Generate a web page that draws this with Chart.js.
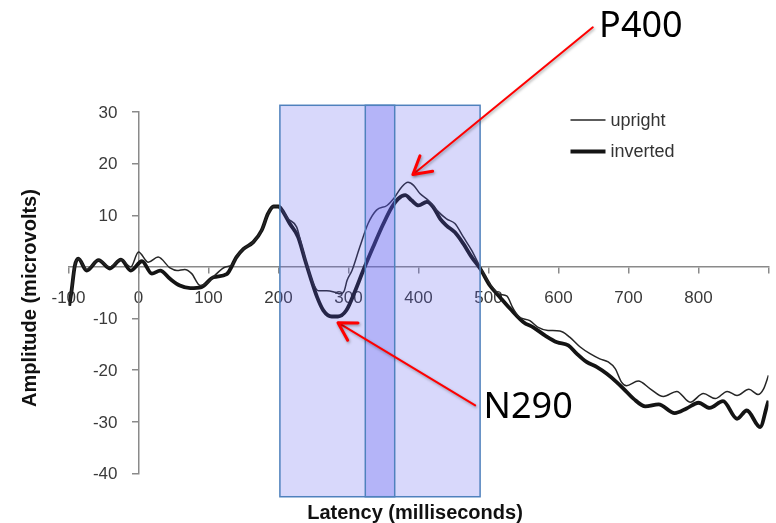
<!DOCTYPE html>
<html>
<head>
<meta charset="utf-8">
<script src="https://cdn.jsdelivr.net/npm/chart.js@4/dist/chart.umd.min.js"></script>
<style>
  html, body { margin: 0; padding: 0; background: #ffffff; }
  #wrap { width: 776px; height: 523px; position: relative; }
</style>
</head>
<body>
<div id="wrap"><canvas id="erp" width="776" height="523"></canvas></div>
<script>
// Grand-average ERP waveforms (latency in ms, amplitude in microvolts)
const uprightLatency = [-99, -96, -91, -86, -74, -57, -41, -25, -11, 0, 14, 28, 45, 55, 66, 76, 88, 97, 107, 124, 133, 140, 150, 164, 176, 185, 193, 200, 205, 214, 226, 233, 240, 250, 257, 269, 281, 288, 294, 298, 305, 316, 328, 340, 355, 366, 376, 385, 393, 402, 414, 426, 440, 452, 464, 476, 488, 497, 507, 516, 526, 535, 543, 559, 571, 585, 602, 616, 631, 645, 659, 671, 681, 690, 697, 714, 731, 750, 769, 788, 807, 824, 841, 855, 872, 885, 893, 900];
const uprightAmplitude = [-7.5, -5.0, 0.2, 1.6, -0.5, 1.3, 0.0, 1.4, 0.0, 2.9, 0.9, 1.9, -0.2, -0.7, -0.5, -1.3, -3.6, -3.2, -1.9, 0.0, 0.3, 1.9, 3.5, 4.8, 7.1, 10.3, 11.7, 11.7, 11.0, 9.3, 7.7, 4.2, 0.6, -3.3, -4.6, -4.6, -4.9, -5.2, -4.6, -2.6, -0.7, 3.8, 8.4, 11.0, 11.9, 13.5, 15.5, 16.4, 15.8, 14.2, 12.9, 11.0, 9.3, 8.4, 5.8, 3.2, 0.0, -2.3, -4.2, -5.3, -5.6, -8.0, -9.6, -10.4, -11.7, -12.3, -12.4, -13.6, -15.5, -16.8, -17.8, -18.4, -19.7, -22.3, -23.0, -22.1, -23.6, -25.1, -24.1, -26.2, -24.5, -25.5, -24.1, -24.9, -23.7, -24.7, -23.6, -21.0];

const invertedLatency = [-99, -96, -91, -86, -74, -57, -41, -25, -11, 5, 19, 31, 45, 59, 74, 90, 107, 126, 140, 150, 164, 176, 185, 193, 200, 205, 216, 228, 238, 247, 255, 264, 276, 285, 297, 309, 321, 335, 350, 362, 371, 381, 390, 400, 412, 421, 431, 440, 452, 464, 476, 488, 502, 516, 531, 550, 564, 581, 598, 614, 626, 640, 655, 669, 683, 693, 707, 724, 743, 766, 783, 800, 816, 835, 855, 869, 888, 898, 900];
const invertedAmplitude = [-7.5, -5.0, 0.2, 1.6, -0.7, 1.3, -0.3, 1.4, -0.7, 1.1, -1.3, -0.7, -2.3, -3.6, -4.1, -3.9, -2.0, -1.4, 1.9, 3.5, 4.8, 7.1, 10.3, 11.7, 11.7, 11.0, 8.4, 5.8, 1.3, -2.6, -5.8, -8.4, -9.6, -9.6, -8.4, -4.8, -0.7, 3.8, 8.4, 11.6, 13.2, 13.9, 12.9, 11.9, 12.6, 11.6, 9.3, 8.0, 6.7, 4.5, 1.9, -0.3, -3.6, -5.8, -8.1, -10.7, -11.7, -13.3, -14.6, -15.2, -16.8, -18.4, -19.4, -20.7, -22.3, -23.6, -25.5, -27.0, -26.6, -28.3, -27.4, -26.3, -27.3, -26.0, -29.4, -27.8, -31.0, -26.8, -25.9];

// Axis ranges and tick steps
const latencyRange = [-100, 900];
const amplitudeRange = [-40, 30];
const latencyStep = 100;
const amplitudeStep = 10;

// Shaded analysis windows (ms) and their vertical extent (microvolts)
const analysisWindow = [202, 488];
const overlapWindow = [324, 366];
const windowAmplitude = [31.3, -44.5];

// Component call-outs: arrow tip, arrow tail and label anchor in (ms, microvolts)
const calloutNames = ['P400', 'N290'];
const calloutTips = [[392, 17.9], [285, -10.8]];
const calloutTails = [[649, 46.4], [481, -26.8]];
const calloutLabels = [[658, 44.5], [493, -29.2]];

const toPoints = (xs, ys) => xs.map((v, i) => ({ x: v, y: ys[i] }));

const TICK_FONT = { family: 'Liberation Sans', size: 17 };
const TICK_COLOR = '#3a3a3a';
const AXIS_GREY = '#8a8a8a';

// keep the plot area exactly where the layout padding puts it
const noScalePadding = scale => {
  scale.paddingLeft = 0;
  scale.paddingRight = 0;
  scale.paddingTop = 0;
  scale.paddingBottom = 0;
};

const windowsPlugin = {
  id: 'windows',
  afterDatasetsDraw(chart) {
    const { ctx, scales: { x, y } } = chart;

    // amplitude labels, set to the left of the crossing y axis
    const axisX = x.getPixelForValue(0);
    ctx.save();
    ctx.fillStyle = TICK_COLOR;
    ctx.font = `${TICK_FONT.size}px "${TICK_FONT.family}"`;
    ctx.textAlign = 'right';
    ctx.textBaseline = 'middle';
    y.ticks.forEach(t => {
      if (t.value === 0) return;
      ctx.fillText(String(t.value), axisX - 21, y.getPixelForValue(t.value) + 1);
    });
    ctx.restore();

    const top = y.getPixelForValue(windowAmplitude[0]);
    const bottom = y.getPixelForValue(windowAmplitude[1]);
    const a0 = x.getPixelForValue(analysisWindow[0]);
    const a1 = x.getPixelForValue(analysisWindow[1]);
    const b0 = x.getPixelForValue(overlapWindow[0]);
    const b1 = x.getPixelForValue(overlapWindow[1]);
    ctx.save();
    ctx.fillStyle = 'rgba(90, 90, 240, 0.24)';
    ctx.fillRect(a0, top, a1 - a0, bottom - top);
    ctx.fillStyle = 'rgba(90, 90, 240, 0.28)';
    ctx.fillRect(b0, top, b1 - b0, bottom - top);
    ctx.strokeStyle = '#4f81bd';
    ctx.lineWidth = 1.5;
    ctx.strokeRect(a0, top, a1 - a0, bottom - top);
    ctx.strokeRect(b0, top, b1 - b0, bottom - top);
    ctx.restore();
  }
};

const decorPlugin = {
  id: 'decor',
  afterDraw(chart) {
    const { ctx, scales: { x, y }, chartArea } = chart;
    ctx.save();

    // axis titles
    ctx.fillStyle = '#111111';
    ctx.font = 'bold 20px "Liberation Sans"';
    ctx.textAlign = 'center';
    ctx.textBaseline = 'middle';
    ctx.fillText('Latency (milliseconds)', 415, 513);
    ctx.save();
    ctx.translate(30, 298);
    ctx.rotate(-Math.PI / 2);
    ctx.fillText('Amplitude (microvolts)', 0, 0);
    ctx.restore();

    // legend
    const lx0 = chartArea.right - 198, lx1 = lx0 + 35;
    chart.data.datasets.forEach((ds, i) => {
      const ly = 120 + i * 31.5;
      ctx.strokeStyle = ds.borderColor;
      ctx.lineWidth = ds.borderWidth;
      ctx.beginPath();
      ctx.moveTo(lx0, ly);
      ctx.lineTo(lx1, ly);
      ctx.stroke();
      ctx.fillStyle = '#333333';
      ctx.font = '18px "Liberation Sans"';
      ctx.textAlign = 'left';
      ctx.textBaseline = 'middle';
      ctx.fillText(ds.label, lx1 + 5, ly + 1);
    });

    // red call-out arrows with component names
    calloutNames.forEach((name, i) => {
      const tx = x.getPixelForValue(calloutTips[i][0]);
      const ty = y.getPixelForValue(calloutTips[i][1]);
      const sx = x.getPixelForValue(calloutTails[i][0]);
      const sy = y.getPixelForValue(calloutTails[i][1]);
      const ang = Math.atan2(sy - ty, sx - tx);
      const head = 20, spread = Math.PI / 6;
      ctx.save();
      ctx.shadowColor = 'rgba(0,0,0,0.35)';
      ctx.shadowBlur = 3;
      ctx.shadowOffsetX = 1;
      ctx.shadowOffsetY = 1.5;
      ctx.strokeStyle = '#ff0000';
      ctx.lineCap = 'round';
      ctx.lineJoin = 'round';
      ctx.lineWidth = 2;
      ctx.beginPath();
      ctx.moveTo(sx, sy);
      ctx.lineTo(tx, ty);
      ctx.stroke();
      ctx.lineWidth = 3;
      ctx.beginPath();
      ctx.moveTo(tx + head * Math.cos(ang + spread), ty + head * Math.sin(ang + spread));
      ctx.lineTo(tx, ty);
      ctx.lineTo(tx + head * Math.cos(ang - spread), ty + head * Math.sin(ang - spread));
      ctx.stroke();
      ctx.restore();

      ctx.fillStyle = '#000000';
      ctx.font = '36px "Noto Sans"';
      ctx.textAlign = 'left';
      ctx.textBaseline = 'alphabetic';
      ctx.fillText(name, x.getPixelForValue(calloutLabels[i][0]), y.getPixelForValue(calloutLabels[i][1]));
    });

    ctx.restore();
  }
};

new Chart(document.getElementById('erp'), {
  type: 'line',
  data: {
    datasets: [
      {
        label: 'upright',
        data: toPoints(uprightLatency, uprightAmplitude),
        borderColor: '#262626',
        borderWidth: 1.5,
        pointRadius: 0,
        cubicInterpolationMode: 'monotone',
        fill: false
      },
      {
        label: 'inverted',
        data: toPoints(invertedLatency, invertedAmplitude),
        borderColor: '#141414',
        borderWidth: 3.8,
        pointRadius: 0,
        cubicInterpolationMode: 'monotone',
        fill: false
      }
    ]
  },
  options: {
    responsive: false,
    animation: false,
    devicePixelRatio: 1,
    layout: { padding: { left: 68.5, right: 7.5, top: 112, bottom: 49.5 } },
    plugins: { legend: { display: false }, tooltip: { enabled: false } },
    scales: {
      x: {
        type: 'linear',
        position: { y: 0 },
        min: latencyRange[0],
        max: latencyRange[1],
        afterFit: noScalePadding,
        ticks: {
          stepSize: latencyStep,
          autoSkip: false,
          maxRotation: 0,
          padding: 15,
          color: TICK_COLOR,
          font: TICK_FONT,
          callback: v => (v === latencyRange[1] ? '' : String(v))
        },
        grid: { drawOnChartArea: false, drawTicks: true, tickLength: 6, color: AXIS_GREY, lineWidth: 1.5 },
        border: { display: true, color: AXIS_GREY, width: 1.5 }
      },
      y: {
        type: 'linear',
        position: { x: 0 },
        min: amplitudeRange[0],
        max: amplitudeRange[1],
        afterFit: noScalePadding,
        ticks: {
          stepSize: amplitudeStep,
          padding: 15,
          font: TICK_FONT,
          callback: () => ''
        },
        grid: { drawOnChartArea: false, drawTicks: true, tickLength: 6, color: AXIS_GREY, lineWidth: 1.5 },
        border: { display: true, color: AXIS_GREY, width: 1.5 }
      }
    }
  },
  plugins: [windowsPlugin, decorPlugin]
});
</script>
</body>
</html>
